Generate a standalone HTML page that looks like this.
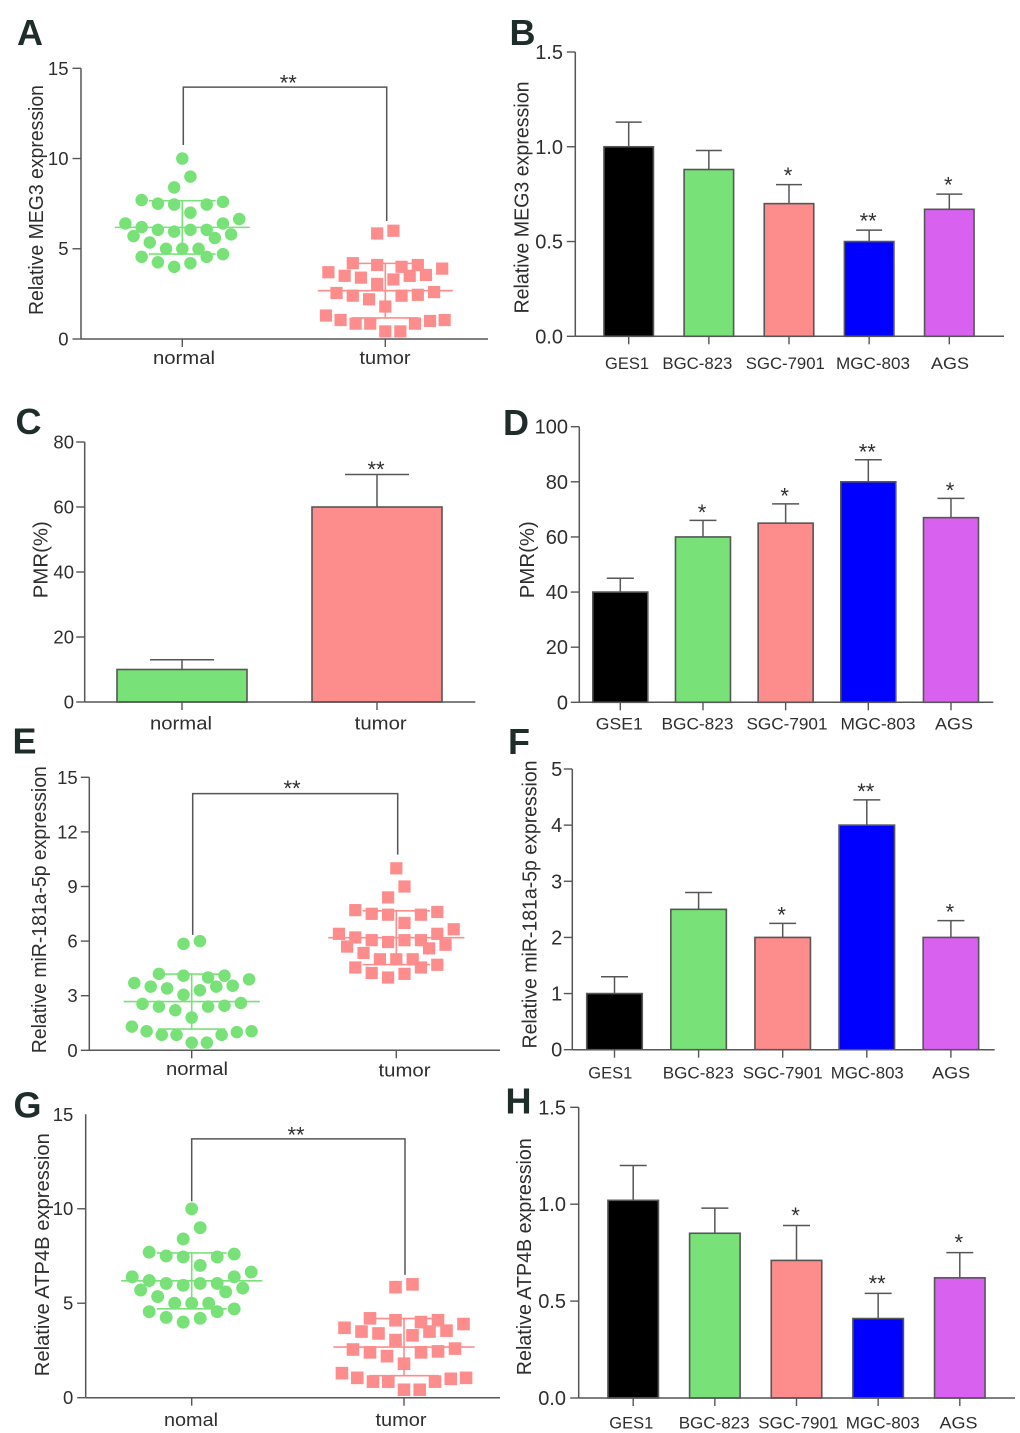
<!DOCTYPE html>
<html lang="en">
<head>
<meta charset="utf-8">
<title>MEG3, miR-181a-5p and ATP4B expression panels</title>
<style>
  html, body { margin: 0; padding: 0; background: #fff; }
  #figure { display: block; filter: blur(0.35px); }
  text { font-family: "Liberation Sans", sans-serif; fill: #2e2e2e; }
</style>
</head>
<body>
<svg id="figure" xmlns="http://www.w3.org/2000/svg" width="1020" height="1433" viewBox="0 0 1020 1433"></svg>
<script>
/* ---------- Panel A ---------- */
const panelAGroups = ["normal", "tumor"];
const panelAYTicks = [0, 5, 10, 15];
const panelANormalValues = [10, 9, 8.4, 7.7, 7.5, 7.45, 7.45, 7.6, 7, 6.65, 6.4, 6.4, 6.2, 6.05, 5.95, 6.05, 6.05, 5.7, 5.8, 5.6, 5.35, 5, 5, 5, 4.55, 4.55, 4.7, 4.25, 4.2, 4];
const panelANormalColumns = [0, 1, -1, -5, -3, -1, 3, 5, 1, 7, -7, 5, -5, -3, -1, 1, 3, -6, 6, 4, -4, -2, 0, 2, -5, 3, 5, -3, 1, -1];
const panelATumorValues = [6, 5.85, 4.2, 4.1, 4, 4.1, 3.9, 3.7, 3.5, 3.4, 3.3, 3.5, 3.55, 3.05, 2.55, 2.4, 2.2, 2.4, 2.45, 2.6, 1.8, 1.3, 1.05, 0.85, 0.85, 0.42, 0.42, 0.85, 1, 1.05];
const panelATumorColumns = [1, -1, -4, -1, 2, 4, 7, -7, -5, -3, 1, 3, 5, -1, -6, -4, -2, 2, 4, 6, 0, -7.3, -5.5, -3.65, -1.85, 0, 1.85, 3.65, 5.5, 7.3];
const panelABracket = [13.96, 10.75, 6.54];

/* ---------- Panel B ---------- */
const panelBCategories = ["GES1", "BGC-823", "SGC-7901", "MGC-803", "AGS"];
const panelBYTicks = ["0.0", "0.5", "1.0", "1.5"];
const panelBValues = [1.0, 0.88, 0.7, 0.5, 0.67];
const panelBErrorTops = [1.13, 0.98, 0.8, 0.56, 0.75];
const panelBStars = ["", "", "*", "**", "*"];

/* ---------- Panel C ---------- */
const panelCCategories = ["normal", "tumor"];
const panelCYTicks = ["0", "20", "40", "60", "80"];
const panelCValues = [10, 60];
const panelCErrorTops = [13, 70];
const panelCStars = ["", "**"];

/* ---------- Panel D ---------- */
const panelDCategories = ["GSE1", "BGC-823", "SGC-7901", "MGC-803", "AGS"];
const panelDYTicks = ["0", "20", "40", "60", "80", "100"];
const panelDValues = [40, 60, 65, 80, 67];
const panelDErrorTops = [45, 66, 72, 88, 74];
const panelDStars = ["", "*", "*", "**", "*"];

/* ---------- Panel E ---------- */
const panelEGroups = ["normal", "tumor"];
const panelEYTicks = [0, 3, 6, 9, 12, 15];
const panelENormalValues = [6, 5.85, 4.2, 4.1, 4, 4.1, 3.9, 3.7, 3.5, 3.4, 3.3, 3.5, 3.55, 3.05, 2.55, 2.4, 2.2, 2.4, 2.45, 2.6, 1.8, 1.3, 1.05, 0.85, 0.85, 0.42, 0.42, 0.85, 1, 1.05];
const panelENormalColumns = [1, -1, -4, -1, 2, 4, 7, -7, -5, -3, 1, 3, 5, -1, -6, -4, -2, 2, 4, 6, 0, -7.3, -5.5, -3.65, -1.85, 0, 1.85, 3.65, 5.5, 7.3];
const panelETumorValues = [10, 9, 8.4, 7.7, 7.5, 7.45, 7.45, 7.6, 7, 6.65, 6.4, 6.4, 6.2, 6.05, 5.95, 6.05, 6.05, 5.7, 5.8, 5.6, 5.35, 5, 5, 5, 4.55, 4.55, 4.7, 4.25, 4.2, 4];
const panelETumorColumns = [0, 1, -1, -5, -3, -1, 3, 5, 1, 7, -7, 5, -5, -3, -1, 1, 3, -6, 6, 4, -4, -2, 0, 2, -5, 3, 5, -3, 1, -1];
const panelEBracket = [14.1, 6.34, 10.75];

/* ---------- Panel F ---------- */
const panelFCategories = ["GES1", "BGC-823", "SGC-7901", "MGC-803", "AGS"];
const panelFYTicks = ["0", "1", "2", "3", "4", "5"];
const panelFValues = [1, 2.5, 2, 4, 2];
const panelFErrorTops = [1.3, 2.8, 2.25, 4.45, 2.3];
const panelFStars = ["", "", "*", "**", "*"];

/* ---------- Panel G ---------- */
const panelGGroups = ["nomal", "tumor"];
const panelGYTicks = [0, 5, 10, 15];
const panelGNormalValues = [10, 9, 8.4, 7.7, 7.5, 7.45, 7.45, 7.6, 7, 6.65, 6.4, 6.4, 6.2, 6.05, 5.95, 6.05, 6.05, 5.7, 5.8, 5.6, 5.35, 5, 5, 5, 4.55, 4.55, 4.7, 4.25, 4.2, 4];
const panelGNormalColumns = [0, 1, -1, -5, -3, -1, 3, 5, 1, 7, -7, 5, -5, -3, -1, 1, 3, -6, 6, 4, -4, -2, 0, 2, -5, 3, 5, -3, 1, -1];
const panelGTumorValues = [6, 5.85, 4.2, 4.1, 4, 4.1, 3.9, 3.7, 3.5, 3.4, 3.3, 3.5, 3.55, 3.05, 2.55, 2.4, 2.2, 2.4, 2.45, 2.6, 1.8, 1.3, 1.05, 0.85, 0.85, 0.42, 0.42, 0.85, 1, 1.05];
const panelGTumorColumns = [1, -1, -4, -1, 2, 4, 7, -7, -5, -3, 1, 3, 5, -1, -6, -4, -2, 2, 4, 6, 0, -7.3, -5.5, -3.65, -1.85, 0, 1.85, 3.65, 5.5, 7.3];
const panelGBracket = [13.7, 10.4, 6.5];

/* ---------- Panel H ---------- */
const panelHCategories = ["GES1", "BGC-823", "SGC-7901", "MGC-803", "AGS"];
const panelHYTicks = ["0.0", "0.5", "1.0", "1.5"];
const panelHValues = [1.02, 0.85, 0.71, 0.41, 0.62];
const panelHErrorTops = [1.2, 0.98, 0.89, 0.54, 0.75];
const panelHStars = ["", "", "*", "**", "*"];

/* ---------- Palette ---------- */
const AXIS = "#565656";
const GREEN = "#78e278";
const SALMON = "#fd8c8c";
const BLUE = "#0000fe";
const PURPLE = "#d862ef";
const FIVE_COLORS = ["#000000", GREEN, SALMON, BLUE, PURPLE];
const TWO_COLORS = [GREEN, SALMON];

const svg = document.getElementById("figure");
const SVGNS = "http://www.w3.org/2000/svg";

function mk(parent, tag, geometry, text) {
  const el = document.createElementNS(SVGNS, tag);
  for (const k in geometry) el.setAttribute(k, geometry[k]);
  if (text !== undefined) el.textContent = text;
  parent.appendChild(el);
  return el;
}

function makeYScale(p) {
  return function (v) { return p.y0 - (v / p.yMax) * (p.y0 - p.yTop); };
}
function makeXScale(p) {
  return function (i) { return p.xFirst + p.xStep * i; };
}

function drawFrame(p, parent, y, x, yTicks, categories) {
  const yAxis = mk(parent, "line", { x1: p.axisX, x2: p.axisX, y1: p.y0, y2: p.yTop, stroke: AXIS, "stroke-width": 1.5 });
  
  
  const xAxis = mk(parent, "line", { x1: p.axisX, x2: p.axisEnd, y1: p.y0, y2: p.y0, stroke: AXIS, "stroke-width": 1.5 });
  
  

  yTicks.forEach(function (label, i) {
    const py = y(parseFloat(label));
    if (!(p.skipTopTick && i === yTicks.length - 1)) {
      const tick = mk(parent, "line", { x1: p.axisX - 8.5, x2: p.axisX, y1: py, y2: py, stroke: AXIS, "stroke-width": 1.4 });
      
      
    }
    const lab = mk(parent, "text", { x: p.tickRight, y: py + p.tickFont * 0.35, "text-anchor": "end", "font-size": p.tickFont }, String(label));
    
    
  });

  categories.forEach(function (name, i) {
    const tick = mk(parent, "line", { x1: x(i), x2: x(i), y1: p.y0, y2: p.y0 + 8, stroke: AXIS, "stroke-width": 1.4 });
    
    
    const lab = mk(parent, "text", {
      x: p.labelCenter[i], y: p.labelBase[i] === undefined ? p.labelBase[0] : p.labelBase[i],
      "text-anchor": "middle", "font-size": p.labelFont,
      textLength: p.labelLen[i], lengthAdjust: "spacingAndGlyphs"
    }, name);
    
    
  });

  const title = mk(parent, "text", {
    x: p.titleX, y: p.titleY, "text-anchor": "middle", "font-size": 20,
    textLength: p.titleLen, lengthAdjust: "spacingAndGlyphs",
    transform: "rotate(-90 " + p.titleX + " " + p.titleY + ")"
  }, p.title);
  
  

  const letter = mk(parent, "text", { x: p.letterX, y: p.letterY, "font-size": 36, "font-weight": "bold", style: "fill:#1f2d2a" }, p.letter);
  
  
}

function drawBarPanel(p, categories, yTicks, values, errorTops, stars) {
  const g = mk(svg, "g", {});
  
  
  const y = makeYScale(p);
  const x = makeXScale(p);

  values.forEach(function (v, i) {
    const stem = mk(g, "line", { x1: x(i), x2: x(i), y1: y(errorTops[i]), y2: y(v), stroke: AXIS, "stroke-width": 1.5 });
    
    
    const cap = mk(g, "line", { x1: x(i) - p.capHalf, x2: x(i) + p.capHalf, y1: y(errorTops[i]), y2: y(errorTops[i]), stroke: AXIS, "stroke-width": 1.5 });
    
    
    const bar = mk(g, "rect", {
      x: x(i) - p.barWidth / 2, y: y(v), width: p.barWidth, height: y(0) - y(v),
      fill: p.colors[i], stroke: AXIS, "stroke-width": 1.6
    });
    
    
    if (stars[i]) {
      const star = mk(g, "text", { x: x(i) - 1, y: y(errorTops[i]) + p.starDrop - 0.5, "text-anchor": "middle", "font-size": 22 }, stars[i]);
      
      
    }
  });
  drawFrame(p, g, y, x, yTicks, categories);
}

function mean(a) { return a.reduce(function (s, v) { return s + v; }, 0) / a.length; }
function sd(a) {
  const m = mean(a);
  return Math.sqrt(a.reduce(function (s, v) { return s + (v - m) * (v - m); }, 0) / (a.length - 1));
}

function drawScatterPanel(p, groups, yTicks, seriesValues, seriesColumns, bracket) {
  const g = mk(svg, "g", {});
  
  
  const y = makeYScale(p);
  const x = makeXScale(p);
  const S = p.markerSize;

  seriesValues.forEach(function (vals, s) {
    const cx = x(s);
    const color = p.seriesColors[s];
    const m = mean(vals);
    const d = sd(vals);
    const halfMean = p.slot * 8.3;
    const halfCap = p.slot * 4.1;
    const meanLine = mk(g, "line", { x1: cx - halfMean, x2: cx + halfMean, y1: y(m), y2: y(m), stroke: color, "stroke-width": 1.6 });
    
    
    const sdStem = mk(g, "line", { x1: cx, x2: cx, y1: y(m + d), y2: y(m - d), stroke: color, "stroke-width": 1.6 });
    
    
    [m + d, m - d].forEach(function (lim) {
      const cap = mk(g, "line", { x1: cx - halfCap, x2: cx + halfCap, y1: y(lim), y2: y(lim), stroke: color, "stroke-width": 1.6 });
      
      
    });
    vals.forEach(function (v, i) {
      const px = cx + seriesColumns[s][i] * p.slot;
      const py = y(v);
      let pt;
      if (p.seriesShapes[s] === "circle") {
        pt = mk(g, "circle", { cx: px, cy: py, r: (S + 0.3) / 2, fill: color });
      } else {
        pt = mk(g, "rect", { x: px - S / 2, y: py - S / 2, width: S, height: S, fill: color });
      }
      
      
    });
  });

  const bx1 = x(0) + p.bracketNudge[0];
  const bx2 = x(1) + p.bracketNudge[1];
  const br = mk(g, "polyline", {
    points: bx1 + "," + y(bracket[1]) + " " + bx1 + "," + y(bracket[0]) + " " + bx2 + "," + y(bracket[0]) + " " + bx2 + "," + y(bracket[2]),
    fill: "none", stroke: AXIS, "stroke-width": 1.5
  });
  
  
  const star = mk(g, "text", { x: p.starX, y: y(bracket[0]) + p.starDrop - 0.5, "text-anchor": "middle", "font-size": 22 }, "**");
  
  

  drawFrame(p, g, y, x, yTicks, groups);
}

drawScatterPanel({
  letter: "A", title: "Relative MEG3 expression", titleX: 43, titleY: 200, titleLen: 230,
  letterX: 17, letterY: 45, axisX: 81, axisEnd: 488, y0: 339, yTop: 68.3, yMax: 15,
  xFirst: 182.3, xStep: 203, slot: 8.13, markerSize: 12.2,
  seriesColors: [GREEN, SALMON], seriesShapes: ["circle", "rect"],
  tickRight: 68.5, tickFont: 18.5, labelCenter: [184, 385], labelBase: [364], labelFont: 18, labelLen: [62, 51],
  bracketNudge: [1, 1.4], starX: 288.3, starDrop: 4
}, panelAGroups, panelAYTicks, [panelANormalValues, panelATumorValues], [panelANormalColumns, panelATumorColumns], panelABracket);

drawBarPanel({
  letter: "B", title: "Relative MEG3 expression", titleX: 528.5, titleY: 197.5, titleLen: 232,
  letterX: 509.5, letterY: 45, axisX: 575.3, axisEnd: 1004, y0: 336.3, yTop: 52, yMax: 1.5,
  xFirst: 628.7, xStep: 80.15, barWidth: 49.5, capHalf: 13, colors: FIVE_COLORS, starDrop: -1,
  tickRight: 563, tickFont: 20, labelCenter: [627, 697.4, 785.3, 873, 950], labelBase: [369], labelFont: 17, labelLen: [44, 70, 79, 74, 38]
}, panelBCategories, panelBYTicks, panelBValues, panelBErrorTops, panelBStars);

drawBarPanel({
  letter: "C", title: "PMR(%)", titleX: 47.5, titleY: 559.7, titleLen: 77,
  letterX: 15.5, letterY: 434, axisX: 84.7, axisEnd: 475.3, y0: 702, yTop: 442, yMax: 80,
  xFirst: 182, xStep: 195, barWidth: 130, capHalf: 32, colors: TWO_COLORS, starDrop: 3,
  tickRight: 74, tickFont: 18.5, labelCenter: [181, 380.7], labelBase: [729.3], labelFont: 18, labelLen: [62, 52]
}, panelCCategories, panelCYTicks, panelCValues, panelCErrorTops, panelCStars);

drawBarPanel({
  letter: "D", title: "PMR(%)", titleX: 534, titleY: 559.7, titleLen: 77,
  letterX: 503, letterY: 435, axisX: 579.3, axisEnd: 993.3, y0: 702.3, yTop: 426.7, yMax: 100,
  xFirst: 620.3, xStep: 82.67, barWidth: 55, capHalf: 13.5, colors: FIVE_COLORS, starDrop: 0,
  tickRight: 568, tickFont: 20, labelCenter: [619.3, 697.5, 787, 878, 954], labelBase: [729.3], labelFont: 17, labelLen: [47, 72, 81, 75, 38]
}, panelDCategories, panelDYTicks, panelDValues, panelDErrorTops, panelDStars);

drawScatterPanel({
  letter: "E", title: "Relative miR-181a-5p expression", titleX: 46, titleY: 909.7, titleLen: 287,
  letterX: 12.5, letterY: 753.5, axisX: 89.3, axisEnd: 500, y0: 1050.3, yTop: 777.3, yMax: 15,
  xFirst: 191.7, xStep: 204.6, slot: 8.2, markerSize: 12.2,
  seriesColors: [GREEN, SALMON], seriesShapes: ["circle", "rect"],
  tickRight: 77.7, tickFont: 18.5, labelCenter: [197, 404.5], labelBase: [1075, 1076.7], labelFont: 18, labelLen: [62, 52],
  bracketNudge: [1, 1.4], starX: 292, starDrop: 3
}, panelEGroups, panelEYTicks, [panelENormalValues, panelETumorValues], [panelENormalColumns, panelETumorColumns], panelEBracket);

drawBarPanel({
  letter: "F", title: "Relative miR-181a-5p expression", titleX: 536.5, titleY: 904.5, titleLen: 288,
  letterX: 508, letterY: 754, axisX: 572.3, axisEnd: 994.7, y0: 1049.7, yTop: 769, yMax: 5,
  xFirst: 614.5, xStep: 84.1, barWidth: 55.5, capHalf: 13.5, colors: FIVE_COLORS, starDrop: -0.5,
  tickRight: 562.3, tickFont: 20, labelCenter: [610.3, 698.3, 782.7, 867.3, 951.2], labelBase: [1078.3], labelFont: 17, labelLen: [44, 71, 80, 73, 38]
}, panelFCategories, panelFYTicks, panelFValues, panelFErrorTops, panelFStars);

drawScatterPanel({
  letter: "G", title: "Relative ATP4B expression", titleX: 49, titleY: 1254.7, titleLen: 243,
  letterX: 13.5, letterY: 1117.5, axisX: 85.7, axisEnd: 500, y0: 1397.7, yTop: 1114.3, yMax: 15, skipTopTick: true,
  xFirst: 191.7, xStep: 212.3, slot: 8.5, markerSize: 12.6,
  seriesColors: [GREEN, SALMON], seriesShapes: ["circle", "rect"],
  tickRight: 73.3, tickFont: 18.5, labelCenter: [191, 401], labelBase: [1426], labelFont: 18, labelLen: [54, 51],
  bracketNudge: [0, 1], starX: 296, starDrop: 4
}, panelGGroups, panelGYTicks, [panelGNormalValues, panelGTumorValues], [panelGNormalColumns, panelGTumorColumns], panelGBracket);

drawBarPanel({
  letter: "H", title: "Relative ATP4B expression", titleX: 531, titleY: 1256.7, titleLen: 237,
  letterX: 505.5, letterY: 1113.5, axisX: 578.7, axisEnd: 1015, y0: 1398, yTop: 1107.3, yMax: 1.5,
  xFirst: 633.2, xStep: 81.65, barWidth: 50.5, capHalf: 13.5, colors: FIVE_COLORS, starDrop: -2,
  tickRight: 566, tickFont: 20, labelCenter: [631.3, 714.2, 798.3, 882.8, 958.5], labelBase: [1428.3], labelFont: 17, labelLen: [44, 71, 80, 74, 38]
}, panelHCategories, panelHYTicks, panelHValues, panelHErrorTops, panelHStars);
</script>
</body>
</html>
